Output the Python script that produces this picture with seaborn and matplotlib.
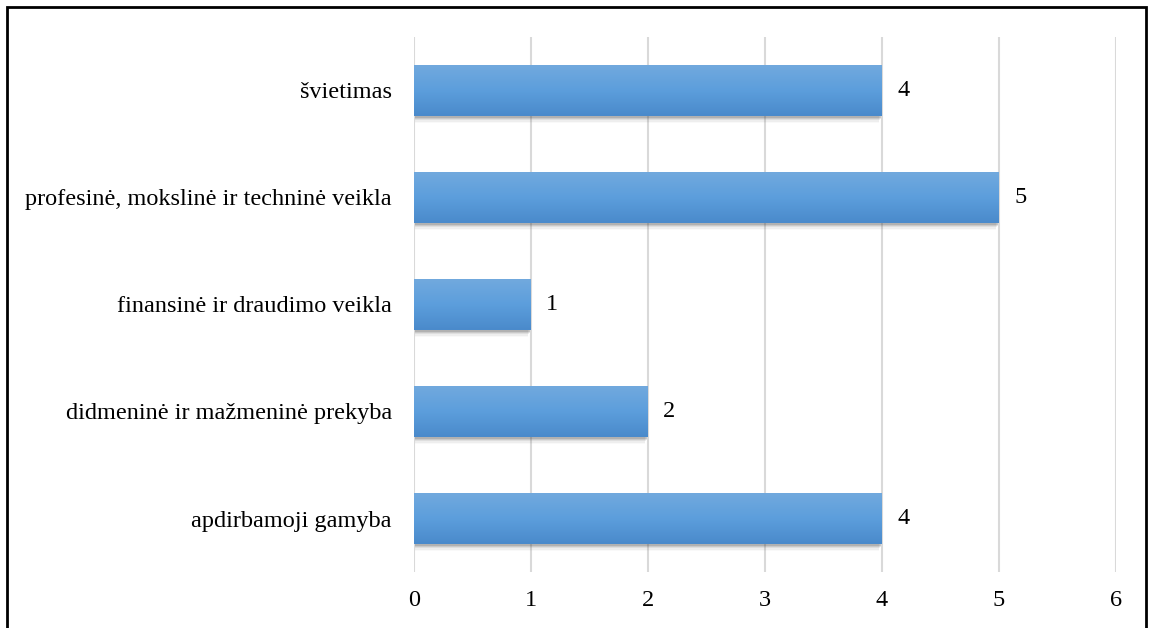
import numpy as np
import pandas as pd
import matplotlib
matplotlib.use("Agg")
import matplotlib.pyplot as plt
import matplotlib.patches as mpatches
from matplotlib.colors import LinearSegmentedColormap
import seaborn as sns

categories = ['švietimas',
              'profesinė, mokslinė ir techninė veikla',
              'finansinė ir draudimo veikla',
              'didmeninė ir mažmeninė prekyba',
              'apdirbamoji gamyba']
values = [4, 5, 1, 2, 4]
x_ticks = [0, 1, 2, 3, 4, 5, 6]

df = pd.DataFrame({'sritis': categories, 'kiekis': values})

sns.set_style('white')
plt.rcParams['font.family'] = ['Liberation Serif', 'DejaVu Serif']

fig = plt.figure(figsize=(11.52, 6.28), dpi=100)
ax = fig.add_axes([414/1152, 1 - 572/628, (1116 - 414)/1152, (572 - 37)/628])

sns.barplot(data=df, x='kiekis', y='sritis', orient='h', color='#5b9bd5',
            width=0.47, ax=ax, zorder=3, linewidth=0, edgecolor='none')

# light on top, darker at the bottom
grad = LinearSegmentedColormap.from_list('g', ['#71a9de', '#5c9edc', '#4a8acb'])
for p in ax.patches:
    x0, y0 = p.get_x(), p.get_y()
    w, h = p.get_width(), p.get_height()
    # soft shadow (y axis is inverted, so +y is downwards)
    for k, a in enumerate([0.18, 0.13, 0.09, 0.06, 0.03]):
        sh = mpatches.Rectangle((x0 + 0.005, y0 + 0.02 + k * 0.012), w - 0.01 - k * 0.006, h,
                                facecolor='#444444', alpha=a, edgecolor='none', zorder=2)
        ax.add_patch(sh)
    img = ax.imshow(np.linspace(0, 1, 64).reshape(-1, 1), cmap=grad, aspect='auto',
                    extent=[x0, x0 + w, y0 + h, y0], origin='upper', zorder=4,
                    interpolation='bicubic')
    img.set_clip_path(p)
    p.set_facecolor('none')
    ax.text(x0 + w + 0.13, y0 + h / 2, f'{w:g}', va='center', ha='left',
            fontsize=17.5, color='#000000', zorder=5)

ax.set_xlim(0, 6)
ax.set_ylim(len(categories) - 0.5, -0.5)
ax.set_xticks(x_ticks)
ax.set_xticklabels([str(t) for t in x_ticks])
ax.xaxis.grid(True, color='#d9d9d9', linewidth=1.5, zorder=0)
ax.yaxis.grid(False)
for s in ax.spines.values():
    s.set_visible(False)
ax.tick_params(axis='both', length=0, labelsize=17.5, colors='#000000')
ax.tick_params(axis='x', pad=13)
ax.tick_params(axis='y', pad=16)
ax.set_xlabel('')
ax.set_ylabel('')

# border around the chart area (bottom edge falls outside the picture)
frame = mpatches.Rectangle((7/1152, -0.05), (1146 - 7)/1152, 1 - 7/628 + 0.05,
                           transform=fig.transFigure, fill=False, edgecolor='#000000',
                           linewidth=2, clip_on=False)
fig.patches.append(frame)

fig.savefig('out.png', dpi=100)
